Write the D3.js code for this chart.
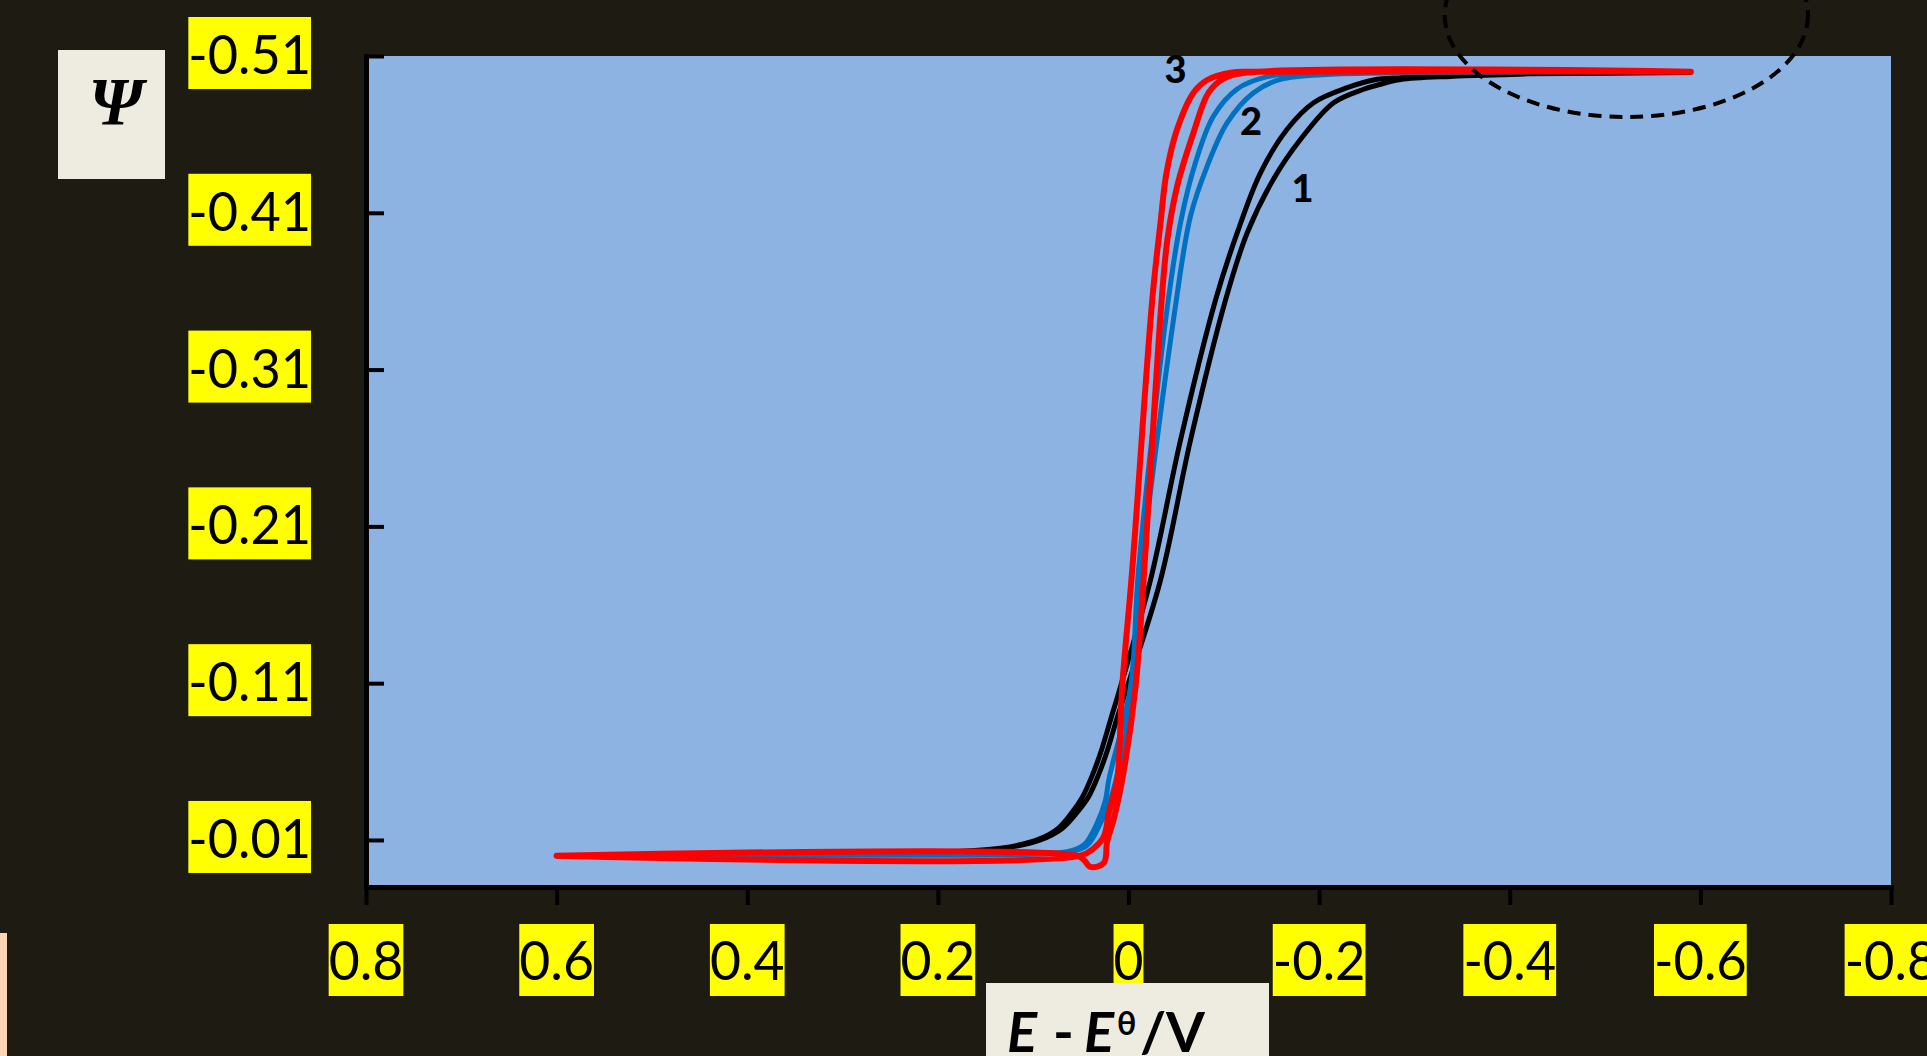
<!DOCTYPE html>
<html>
<head>
<meta charset="utf-8">
<script src="https://cdn.jsdelivr.net/npm/d3@7"></script>
<style>
  html, body { margin: 0; padding: 0; background: #1e1b12; overflow: hidden; }
  svg { display: block; }
</style>
</head>
<body>
<svg id="chart" width="1927" height="1056"></svg>
<script>
// ticks (x axis is reversed : 0.8 on the left, -0.8 on the right)
const xTicks = [0.8, 0.6, 0.4, 0.2, 0, -0.2, -0.4, -0.6, -0.8];
const xTickLabels = ["0.8", "0.6", "0.4", "0.2", "0", "-0.2", "-0.4", "-0.6", "-0.8"];
const yTicks = [-0.51, -0.41, -0.31, -0.21, -0.11, -0.01];
const yTickLabels = ["-0.51", "-0.41", "-0.31", "-0.21", "-0.11", "-0.01"];

// curve 1 (black) : [E - E0, Psi]
const curve1Fwd = [
  [0.6, 0.0000], [0.40, -0.0003], [0.30, -0.0007], [0.2394, -0.0013], [0.1869, -0.0025],
  [0.1344, -0.0047], [0.0959, -0.0100], [0.0745, -0.0170], [0.0588, -0.0279], [0.0483, -0.0374],
  [0.0378, -0.0515], [0.0283, -0.0674], [0.0189, -0.0865], [0.0084, -0.1078], [-0.0231, -0.1758],
  [-0.0546, -0.2651], [-0.0913, -0.3544], [-0.1141, -0.3973], [-0.1386, -0.4356],
  [-0.1666, -0.4634], [-0.1942, -0.4802], [-0.2296, -0.4898], [-0.2572, -0.4947], [-0.2856, -0.4962],
  [-0.3381, -0.4977], [-0.3906, -0.4983], [-0.4189, -0.4986], [-0.59, -0.4995]
];
const curve1Rev = [
  [-0.59, -0.4995], [-0.4189, -0.4986], [-0.3906, -0.4980], [-0.3381, -0.4970], [-0.2856, -0.4950],
  [-0.2646, -0.4920], [-0.2467, -0.4888], [-0.2152, -0.4802], [-0.1806, -0.4569], [-0.1522, -0.4316],
  [-0.1246, -0.3973], [-0.1018, -0.3544], [-0.0651, -0.2651], [-0.0336, -0.1758],
  [0.0013, -0.1078], [0.0126, -0.0865], [0.0220, -0.0674], [0.0315, -0.0515], [0.0420, -0.0374],
  [0.0535, -0.0279], [0.0703, -0.0170], [0.0924, -0.0100], [0.1312, -0.0047], [0.1816, -0.0025],
  [0.2394, -0.0013], [0.30, -0.0007], [0.40, -0.0003], [0.6, 0.0000]
];

// curve 2 (blue)
const curve2Fwd = [
  [0.6, 0.0000], [0.25, -0.0003], [0.0997, -0.0015], [0.0644, -0.0025], [0.0469, -0.0068],
  [0.0329, -0.0207], [0.0241, -0.0355], [0.0207, -0.0483], [-0.0021, -0.1078], [-0.0105, -0.1822],
  [-0.0409, -0.3506], [-0.0546, -0.4037], [-0.0703, -0.4420], [-0.0892, -0.4717], [-0.1141, -0.4890],
  [-0.1456, -0.4968], [-0.1771, -0.4990], [-0.30, -0.4998], [-0.59, -0.5000]
];
const curve2Rev = [
  [-0.59, -0.5000], [-0.30, -0.4995], [-0.2121, -0.4983], [-0.1596, -0.4951], [-0.1312, -0.4866],
  [-0.1036, -0.4675], [-0.0826, -0.4398], [-0.0651, -0.4080], [-0.0493, -0.3506], [-0.0126, -0.1758],
  [-0.0053, -0.1078], [0.0189, -0.0355], [0.0294, -0.0207], [0.0430, -0.0068], [0.0609, -0.0025],
  [0.0924, -0.0010], [0.25, -0.0002], [0.6, 0.0000]
];

// curve 3 (red)
const curve3Fwd = [
  [0.6, 0.0000], [0.0504, 0.0000], [0.0364, -0.0047], [0.0259, -0.0121], [0.0207, -0.0272],
  [0.0171, -0.0355], [0.0118, -0.0483], [0.0066, -0.1078], [-0.0039, -0.1822], [-0.0249, -0.3544],
  [-0.0336, -0.4037], [-0.0399, -0.4356], [-0.0511, -0.4634], [-0.0682, -0.4866], [-0.0826, -0.4947],
  [-0.1071, -0.4994], [-0.1312, -0.5000], [-0.59, -0.5000]
];
const curve3Rev = [
  [-0.59, -0.5000], [-0.1246, -0.4994], [-0.0997, -0.4955], [-0.0840, -0.4866], [-0.0682, -0.4611],
  [-0.0511, -0.4271], [-0.0409, -0.3933], [-0.0343, -0.3506], [-0.0158, -0.1758], [-0.0074, -0.1078],
  [0.0066, -0.0483], [0.0157, -0.0228], [0.0224, -0.0089], [0.0259, 0.0047], [0.0399, 0.0072],
  [0.0469, 0.0026], [0.0539, 0.0000], [0.6, 0.0000]
];

const curveNames = ["1", "2", "3"];

const svg = d3.select("#chart");
const W = 1927, H = 1056;
const plot = { left: 366, right: 1891, top: 56, bottom: 887 };

const x = d3.scaleLinear().domain([0.8, -0.8]).range([plot.left, plot.right]);
const y = d3.scaleLinear().domain([-0.51, 0.02]).range([plot.top, plot.bottom]);

// fond
svg.append("rect").attr("width", W).attr("height", H).attr("fill", "#1e1b12");
svg.append("rect").attr("x", 0).attr("y", 933).attr("width", 7).attr("height", H - 933).attr("fill", "#fcd5b5");

// zone de tracé
svg.append("rect")
  .attr("x", plot.left).attr("y", plot.top)
  .attr("width", plot.right - plot.left).attr("height", plot.bottom - plot.top)
  .attr("fill", "#8db3e2");

// courbes : aller puis retour
const line = d3.line()
  .x(d => x(d[0]))
  .y(d => y(d[1]))
  .curve(d3.curveCatmullRom.alpha(0.5));

const curves = [
  { name: curveNames[0], pts: curve1Fwd.concat(curve1Rev), color: "#000000", width: 5 },
  { name: curveNames[1], pts: curve2Fwd.concat(curve2Rev), color: "#0070c0", width: 5 },
  { name: curveNames[2], pts: curve3Fwd.concat(curve3Rev), color: "#ff0000", width: 6 }
];

svg.append("g").selectAll("path")
  .data(curves)
  .join("path")
  .attr("d", d => line(d.pts))
  .attr("fill", "none")
  .attr("stroke", d => d.color)
  .attr("stroke-width", d => d.width)
  .attr("stroke-linejoin", "round")
  .attr("stroke-linecap", "round");

// étiquettes des courbes (position en coordonnées du graphe)
const curveLabelAt = [[-0.1827, -0.4169], [-0.1286, -0.4596], [-0.0494, -0.4928]];
svg.append("g").selectAll("text")
  .data(curves)
  .join("text")
  .attr("x", (d, i) => x(curveLabelAt[i][0]))
  .attr("y", (d, i) => y(curveLabelAt[i][1]))
  .attr("text-anchor", "middle")
  .attr("font-family", "Lato, 'Open Sans', sans-serif")
  .attr("font-weight", 900)
  .attr("font-size", 38)
  .attr("fill", "#000")
  .text(d => d.name);

// ellipse pointillée (annotation)
const ell = { cx: -0.5223, cy: -0.5361, rx: 0.1906, ry: 0.065 };
svg.append("ellipse")
  .attr("cx", x(ell.cx))
  .attr("cy", y(ell.cy))
  .attr("rx", Math.abs(x(ell.cx + ell.rx) - x(ell.cx)))
  .attr("ry", Math.abs(y(ell.cy + ell.ry) - y(ell.cy)))
  .attr("fill", "none")
  .attr("stroke", "#000")
  .attr("stroke-width", 4)
  .attr("stroke-dasharray", "13,8");

// axes
const yAxis = svg.append("g")
  .attr("transform", `translate(${plot.left},0)`)
  .call(d3.axisLeft(y).tickValues(yTicks).tickSize(-18).tickSizeOuter(0).tickFormat(""));
const xAxis = svg.append("g")
  .attr("transform", `translate(0,${plot.bottom})`)
  .call(d3.axisBottom(x).tickValues(xTicks).tickSize(18).tickSizeOuter(0).tickFormat(""));

[yAxis, xAxis].forEach(g => {
  g.select(".domain").attr("stroke", "#000").attr("stroke-width", 5).attr("stroke-linecap", "square");
  g.selectAll(".tick line").attr("stroke", "#000").attr("stroke-width", 4);
});

// largeur des étiquettes (boîte jaune = largeur du texte d'origine)
const charW = { "-": 0.306, ".": 0.252 };
function labelWidth(s) {
  let w = 0;
  for (const c of s) w += (charW[c] !== undefined ? charW[c] : 0.507);
  return w * 59;
}
const tickFont = "Lato, 'Open Sans', sans-serif";

// étiquettes Y
const yLab = svg.append("g").selectAll("g")
  .data(yTicks)
  .join("g")
  .attr("transform", (d, i) => {
    const w = labelWidth(yTickLabels[i]);
    return `translate(${311 - w},${y(d) - 39})`;
  });
yLab.append("rect")
  .attr("width", (d, i) => labelWidth(yTickLabels[i]))
  .attr("height", 72)
  .attr("fill", "#ffff00");
yLab.append("text")
  .attr("x", 0).attr("y", 57)
  .attr("font-family", tickFont)
  .attr("font-size", 54)
  .attr("textLength", (d, i) => labelWidth(yTickLabels[i]))
  .attr("lengthAdjust", "spacingAndGlyphs")
  .attr("fill", "#000")
  .text((d, i) => yTickLabels[i]);

// étiquettes X
const xLab = svg.append("g").selectAll("g")
  .data(xTicks)
  .join("g")
  .attr("transform", (d, i) => `translate(${x(d) - labelWidth(xTickLabels[i]) / 2},924)`);
xLab.append("rect")
  .attr("width", (d, i) => labelWidth(xTickLabels[i]))
  .attr("height", 72)
  .attr("fill", "#ffff00");
xLab.append("text")
  .attr("x", 0).attr("y", 56)
  .attr("font-family", tickFont)
  .attr("font-size", 54)
  .attr("textLength", (d, i) => labelWidth(xTickLabels[i]))
  .attr("lengthAdjust", "spacingAndGlyphs")
  .attr("fill", "#000")
  .text((d, i) => xTickLabels[i]);

// titre de l'axe Y
svg.append("rect").attr("x", 58).attr("y", 50).attr("width", 107).attr("height", 129).attr("fill", "#eeece1");
svg.append("text")
  .attr("x", 116).attr("y", 124)
  .attr("text-anchor", "middle")
  .attr("font-family", "'Liberation Serif', 'DejaVu Serif', serif")
  .attr("font-style", "italic")
  .attr("font-weight", "bold")
  .attr("font-size", 68)
  .attr("fill", "#000")
  .text("Ψ");

// titre de l'axe X
svg.append("rect").attr("x", 986).attr("y", 983).attr("width", 283).attr("height", 80).attr("fill", "#eeece1");
const xt = svg.append("text")
  .attr("y", 1052)
  .attr("font-family", "Lato, 'Open Sans', sans-serif")
  .attr("font-weight", "bold")
  .attr("font-size", 56)
  .attr("fill", "#000");
xt.append("tspan").attr("x", 1007).attr("font-style", "italic").text("E");
xt.append("tspan").attr("x", 1053).text("-");
xt.append("tspan").attr("x", 1084).attr("font-style", "italic").text("E");
xt.append("tspan").attr("x", 1117).attr("y", 1035).attr("font-size", 32).text("θ");
xt.append("tspan").attr("x", 1140).attr("y", 1052).text("/V");
</script>
</body>
</html>
